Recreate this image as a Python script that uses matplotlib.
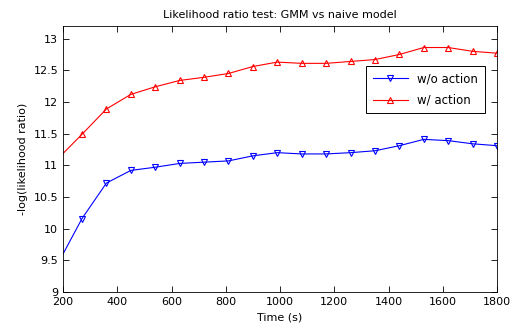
import matplotlib.pyplot as plt

# tiempos (s) y valores
tiempo = [180, 270, 360, 450, 540, 630, 720, 810, 900, 990,
          1080, 1170, 1260, 1350, 1440, 1530, 1620, 1710, 1800]
sin_accion = [9.44, 10.16, 10.72, 10.92, 10.97, 11.03, 11.05, 11.07, 11.15, 11.20,
              11.18, 11.18, 11.20, 11.23, 11.31, 11.41, 11.39, 11.34, 11.31]
con_accion = [11.10, 11.49, 11.89, 12.12, 12.24, 12.34, 12.39, 12.45, 12.56, 12.63,
              12.61, 12.61, 12.64, 12.67, 12.75, 12.86, 12.86, 12.80, 12.77]
etiquetas = ["w/o action", "w/ action"]

plt.rcParams['font.family'] = ['DejaVu Sans']
plt.rcParams['font.size'] = 8

fig = plt.figure(figsize=(5.26, 3.31), dpi=100)
ax = fig.add_axes([0.1198, 0.1178, 0.8251, 0.8037])

ax.plot(tiempo, sin_accion, color='blue', lw=0.8, marker='v', ms=4.5,
        mfc='none', mew=0.8, label=etiquetas[0])
ax.plot(tiempo, con_accion, color='red', lw=0.8, marker='^', ms=4.5,
        mfc='none', mew=0.8, label=etiquetas[1])

ax.set_xlim(200, 1800)
ax.set_ylim(9, 13.2)
ax.set_xticks(range(200, 1801, 200))
ax.set_yticks([9, 9.5, 10, 10.5, 11, 11.5, 12, 12.5, 13])
ax.set_yticklabels(['9', '9.5', '10', '10.5', '11', '11.5', '12', '12.5', '13'])
ax.tick_params(direction='in', top=True, right=True, length=4, width=0.6)
for s in ax.spines.values():
    s.set_linewidth(0.6)

ax.set_title("Likelihood ratio test: GMM vs naive model", fontsize=8)
ax.set_xlabel("Time (s)")
ax.set_ylabel("-log(likelihood ratio)")

leg = ax.legend(loc='upper right', bbox_to_anchor=(0.972, 0.85), fancybox=False,
                edgecolor='black', framealpha=1, fontsize=8.5, handlelength=3.0,
                labelspacing=0.7, borderpad=0.55, borderaxespad=0)
leg.get_frame().set_linewidth(0.7)

fig.savefig("out.png", dpi=100)
